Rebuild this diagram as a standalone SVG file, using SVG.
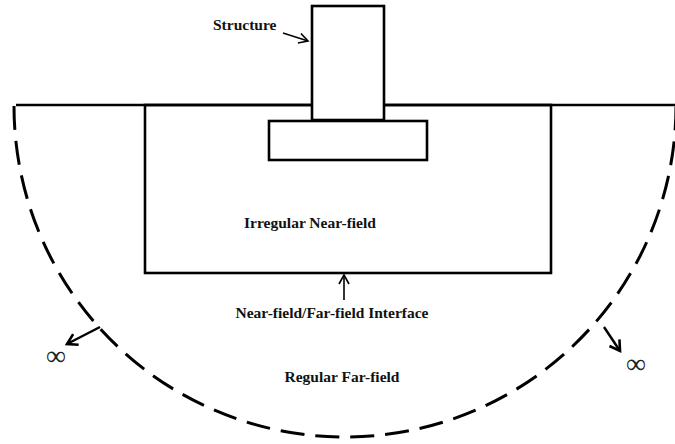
<svg xmlns="http://www.w3.org/2000/svg" width="675" height="444" viewBox="0 0 675 444">
<style>
.ln{fill:none;stroke:#000;stroke-width:2.6}
.box{fill:#fff;stroke:#000;stroke-width:2.6}
.dash{fill:none;stroke:#000;stroke-width:3;stroke-dasharray:24 11}
.ar{fill:none;stroke:#000;stroke-width:1.6}
.ar2{fill:none;stroke:#000;stroke-width:2.4}
.t{font-family:"Liberation Serif","Times New Roman",serif;font-weight:bold;font-size:15.5px;fill:#111}
.inf{font-family:"Liberation Serif","Times New Roman",serif;font-size:28px;fill:#222}
</style>
<defs>
<marker id="v" markerUnits="userSpaceOnUse" markerWidth="14" markerHeight="14" refX="10" refY="6" orient="auto">
<path d="M1,1 L10,6 L1,11" fill="none" stroke="#000" stroke-width="1.6"/>
</marker>
<marker id="v2" markerUnits="userSpaceOnUse" markerWidth="16" markerHeight="16" refX="11" refY="7" orient="auto">
<path d="M1,1 L11,7 L1,13" fill="none" stroke="#000" stroke-width="2.6"/>
</marker>
</defs>
<rect width="675" height="444" fill="#fff"/>
<g id="ground">
<line class="ln" x1="16" y1="105" x2="675" y2="105"/>
</g>
<g id="near-field">
<rect class="ln" x="145" y="105" width="406" height="168"/>
</g>
<g id="structure">
<rect class="box" x="312" y="6" width="72" height="114"/>
<rect class="box" x="269" y="121" width="158" height="39"/>
</g>
<g id="far-field">
<path class="dash" d="M14,106 A331,331 0 0 0 676,106"/>
</g>
<g id="connectors">
<line class="ar" x1="283" y1="33" x2="308" y2="41" marker-end="url(#v)"/>
<line class="ar" x1="344" y1="300" x2="344" y2="275" marker-end="url(#v)"/>
<line class="ar2" x1="100" y1="327" x2="67" y2="344" marker-end="url(#v2)"/>
<line class="ar2" x1="604" y1="327" x2="620" y2="351" marker-end="url(#v2)"/>
</g>
<g id="labels">
<text class="t" x="213" y="30">Structure</text>
<text class="t" x="310" y="228" text-anchor="middle">Irregular Near-field</text>
<text class="t" x="332" y="318" text-anchor="middle">Near-field/Far-field Interface</text>
<text class="t" x="342" y="382" text-anchor="middle">Regular Far-field</text>
<text class="inf" x="56" y="365" text-anchor="middle">∞</text>
<text class="inf" x="636" y="373" text-anchor="middle">∞</text>
</g>
</svg>
